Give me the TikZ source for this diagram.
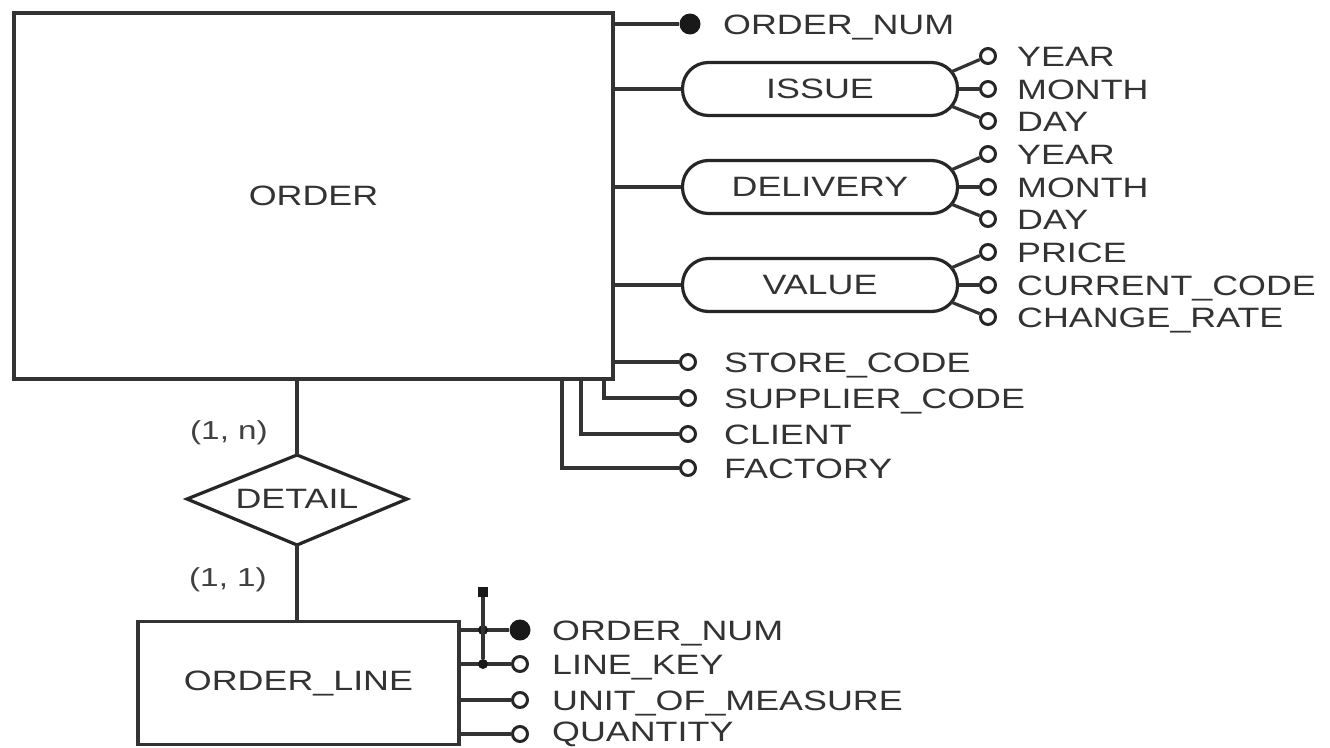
\documentclass[tikz,border=0pt]{standalone}
\usepackage{fontspec}
\setmainfont{Liberation Sans}[FakeStretch=1.28]
\newcommand\erfont{\fontsize{28}{30}\selectfont}
\newcommand\erfontsm{\fontsize{26}{28}\selectfont}
\begin{document}
\begin{tikzpicture}[x=1pt,y=-1pt,
  ln/.style={line width=3.2pt, draw=black!80},
  ent/.style={draw=black!80, line width=3.4pt, inner sep=0pt, font=\erfont, text=black!80},
  pill/.style={draw=black!85, line width=3.2pt, rounded corners=26pt, minimum width=275pt, minimum height=53pt, inner sep=0pt, font=\erfont, text=black!80},
  opt/.style={circle, draw=black!85, line width=3pt, fill=white, minimum size=15pt, inner sep=0pt},
  key/.style={circle, fill=black!90, minimum size=21pt, inner sep=0pt},
  jdot/.style={circle, fill=black!90, minimum size=10pt, inner sep=0pt},
  lbl/.style={anchor=base west, inner sep=0pt, font=\erfont, text=black!80},
  card/.style={inner sep=0pt, font=\erfontsm, text=black!75}]
\useasboundingbox (0,0) rectangle (1330,747);
\fill[white] (0,0) rectangle (1330,747);

% ORDER entity
\node[ent, minimum width=599pt, minimum height=366pt] (order) at (313.5,196) {ORDER};

% ORDER_NUM key
\node[key] (on1) at (690,24) {};
\draw[ln] (order.east |- on1) -- (on1);
\node[lbl] (ton1) at (723,34) {ORDER\_NUM};

% composite attributes
\foreach \nm/\txt/\yc/\a/\b/\c in {issue/ISSUE/89/YEAR/MONTH/DAY,
    delivery/DELIVERY/187/YEAR/MONTH/DAY,
    value/VALUE/285/PRICE/CURRENT\_CODE/CHANGE\_RATE}{
  \node[pill] (\nm) at (820,\yc) {\txt};
  \draw[ln] (order.east |- \nm) -- (\nm.west);
  \node[opt] (\nm a) at (988,\yc-33) {};
  \node[opt] (\nm b) at (988,\yc) {};
  \node[opt] (\nm c) at (988,\yc+32) {};
  \coordinate (\nm u) at (951,\yc-17);
  \coordinate (\nm d) at (951,\yc+17);
  \draw[ln] (\nm u) -- (\nm a);
  \draw[ln] (\nm.east) -- (\nm b);
  \draw[ln] (\nm d) -- (\nm c);
  \node[lbl] (\nm ta) at (1017,\yc-23) {\a};
  \node[lbl] (\nm tb) at (1017,\yc+10) {\b};
  \node[lbl] (\nm tc) at (1017,\yc+42) {\c};
}

% simple attributes below
\node[opt] (sc) at (688,362) {};
\draw[ln] (order.east |- sc) -- (sc);
\node[lbl] (tsc) at (724,372) {STORE\_CODE};

\coordinate (xsp) at (604,0);
\node[opt] (sp) at (688,398) {};
\draw[ln] (order.south -| xsp) |- (sp);
\node[lbl] (tsp) at (724,408) {SUPPLIER\_CODE};

\coordinate (xcl) at (581,0);
\node[opt] (cl) at (688,434) {};
\draw[ln] (order.south -| xcl) |- (cl);
\node[lbl] (tcl) at (724,444) {CLIENT};

\coordinate (xfa) at (562,0);
\node[opt] (fa) at (688,468) {};
\draw[ln] (order.south -| xfa) |- (fa);
\node[lbl] (tfa) at (724,478) {FACTORY};

% DETAIL relationship
\coordinate (dt) at (297,455);
\coordinate (dr) at (407,499);
\coordinate (db) at (297,545);
\coordinate (dl) at (187,499);
\draw[ln, draw=black!85, line join=miter] (dt) -- (dr) -- (db) -- (dl) -- cycle;
\node[inner sep=0pt, font=\erfont, text=black!80] (detail) at (297,499) {DETAIL};
\draw[ln] (order.south -| dt) -- (dt);
\node[card] (c1n) at (229,433) {(1, n)};
\node[card] (c11) at (228,580) {(1, 1)};

% ORDER_LINE entity
\node[ent, minimum width=321pt, minimum height=123pt] (ol) at (298.5,683) {ORDER\_LINE};
\draw[ln] (db) -- (ol.north -| db);

\node[key] (lk1) at (520,630) {};
\node[opt] (lk2) at (520,664) {};
\node[opt] (lk3) at (520,700) {};
\node[opt] (lk4) at (520,734) {};
\draw[ln] (ol.east |- lk1) -- (lk1);
\draw[ln] (ol.east |- lk2) -- (lk2);
\draw[ln] (ol.east |- lk3) -- (lk3);
\draw[ln] (ol.east |- lk4) -- (lk4);
\node[lbl] (tl1) at (552,640) {ORDER\_NUM};
\node[lbl] (tl2) at (552,674) {LINE\_KEY};
\node[lbl] (tl3) at (552,710) {UNIT\_OF\_MEASURE};
\node[lbl] (tl4) at (552,741) {QUANTITY};

% composite key bar
\node[fill=black!90, minimum size=10pt, inner sep=0pt] (kbt) at (483,592) {};
\node[jdot] (kj1) at (483,630) {};
\node[jdot] (kj2) at (483,664) {};
\draw[ln] (kbt) -- (kj2);
\end{tikzpicture}
\end{document}
